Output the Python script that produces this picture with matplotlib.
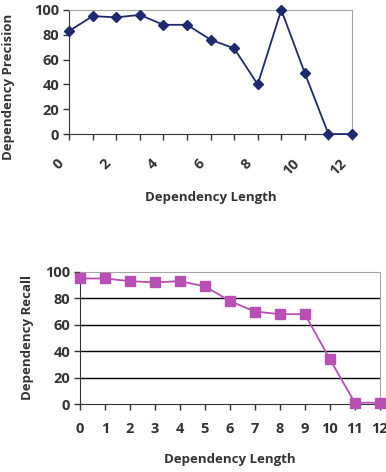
import matplotlib.pyplot as plt
from matplotlib.transforms import ScaledTranslation

plt.rcParams['font.family'] = ['Open Sans', 'DejaVu Sans']
plt.rcParams['font.weight'] = 'bold'

lengths = list(range(13))
precision = [83, 95, 94, 96, 88, 88, 76, 69, 40, 100, 49, 0, 0]
recall = [95, 95, 93, 92, 93, 89, 78, 70, 68, 68, 34, 1, 1]
yticks = [0, 20, 40, 60, 80, 100]

fig = plt.figure(figsize=(3.86, 4.72), dpi=100)
fig.patch.set_facecolor('white')

dark = '#333333'
gray = '#a6a6a6'

# top: precision
ax1 = fig.add_axes([0.179, 0.716, 0.733, 0.263])
ax1.plot(lengths, precision, color='#1f2a6e', lw=1.3, marker='D', ms=5.5,
         mfc='#1f2a6e', mec='#1f2a6e', clip_on=False, zorder=3)
ax1.set_xlim(0, 12)
ax1.set_ylim(0, 100)
ax1.set_yticks(yticks)
ax1.set_xticks(lengths)
ax1.set_xticklabels([str(v) if v % 2 == 0 else '' for v in lengths],
                    rotation=45, ha='right', va='center', rotation_mode='anchor')
ax1.set_xlabel('Dependency Length', fontsize=9.5, fontweight='bold', labelpad=9,
               color=dark)
ax1.set_ylabel('Dependency Precision', fontsize=9.5, fontweight='bold',
               color=dark)
ax1.yaxis.set_label_coords(-0.19, 0.38)

# bottom: recall
ax2 = fig.add_axes([0.207, 0.144, 0.777, 0.280])
ax2.plot(lengths, recall, color='#b94fb5', lw=1.3, marker='s', ms=6.5,
         mfc='#b94fb5', mec='#b94fb5', clip_on=False, zorder=3)
ax2.set_xlim(0, 12)
ax2.set_ylim(0, 100)
ax2.set_yticks(yticks)
ax2.set_xticks(lengths)
for y in yticks[1:-1]:
    ax2.axhline(y, color='black', lw=1, zorder=1)
ax2.set_xlabel('Dependency Length', fontsize=9.5, fontweight='bold', labelpad=12,
               color=dark)
ax2.set_ylabel('Dependency Recall', fontsize=9.5, fontweight='bold', labelpad=8,
               color=dark)

for ax in (ax1, ax2):
    ax.spines['top'].set_color(gray)
    ax.spines['right'].set_color(gray)
    ax.spines['left'].set_color(dark)
    ax.spines['bottom'].set_color(dark)
    ax.tick_params(axis='both', labelsize=10.5, colors=dark, length=4, width=1,
                   direction='out', pad=3)
    for lbl in ax.get_xticklabels() + ax.get_yticklabels():
        lbl.set_fontweight('bold')

ax1.tick_params(axis='x', pad=12)
shift = ScaledTranslation(-8 / 100, -5 / 100, fig.dpi_scale_trans)
for lbl in ax1.get_xticklabels():
    lbl.set_transform(lbl.get_transform() + shift)
ax2.tick_params(axis='x', pad=9)

plt.savefig('out.png', dpi=100, facecolor='white')
